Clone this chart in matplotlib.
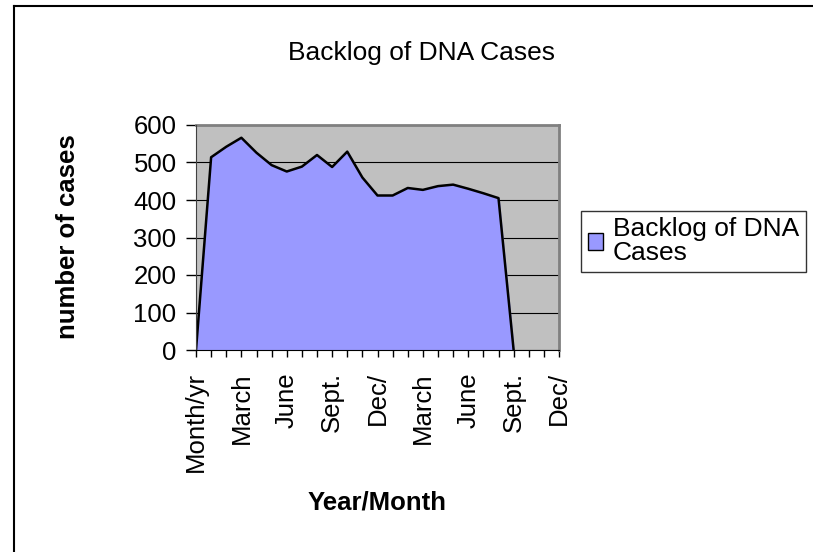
import matplotlib
matplotlib.use('Agg')
import matplotlib.pyplot as plt
from matplotlib.lines import Line2D

plt.rcParams['font.family'] = ['Liberation Sans', 'DejaVu Sans']

# backlog values per month (empty months at the end are left out)
backlog = [0, 514, 542, 566, 526, 493, 476, 489, 520, 488, 529, 460,
           412, 412, 432, 427, 437, 441, 430, 418, 405, 0]
n_categories = 25
tick_labels = ['Month/yr', 'March', 'June', 'Sept.', 'Dec/',
               'March', 'June', 'Sept.', 'Dec/']
yticks = [0, 100, 200, 300, 400, 500, 600]

fs = 18.5

fig = plt.figure(figsize=(8.13, 5.52), dpi=100)
ax = fig.add_axes([196/813, 1-350/552, (559-196)/813, (350-125)/552])
ax.set_facecolor('#C0C0C0')

x = list(range(len(backlog)))
ax.fill_between(x, backlog, 0, color='#9999FF', zorder=2, label='Backlog of DNA\nCases')
ax.plot(x, backlog, color='black', lw=1.8, zorder=3)

ax.set_xlim(0, n_categories - 1)
ax.set_ylim(0, 600)
ax.set_yticks(yticks)
ax.set_xticks(range(n_categories))
labels = []
for i in range(n_categories):
    if i % 3 == 0:
        labels.append(tick_labels[i // 3])
    else:
        labels.append('')
ax.set_xticklabels(labels, rotation=90, fontsize=fs)
ax.tick_params(axis='y', labelsize=fs, length=7, width=1, direction='out', pad=7)
ax.tick_params(axis='x', length=5, width=1, direction='out', pad=11)
ax.grid(axis='y', color='black', lw=0.8, zorder=1)
ax.set_axisbelow(True)

for side in ['top', 'right']:
    ax.spines[side].set_color('#808080')
    ax.spines[side].set_linewidth(2)
ax.spines['left'].set_color('#404040')
ax.spines['bottom'].set_color('black')
ax.spines['left'].set_zorder(4)
ax.spines['bottom'].set_zorder(4)

fig.text(421/813, 1-60/552, 'Backlog of DNA Cases', ha='center', va='baseline', fontsize=19)
fig.text(68/813, 1-237/552, 'number of cases', ha='center', va='center',
         rotation=90, fontsize=fs, fontweight='bold')
fig.text(377/813, 1-510/552, 'Year/Month', ha='center', va='baseline',
         fontsize=fs, fontweight='bold')

leg = ax.legend(loc='lower left', bbox_to_anchor=(581/813, 1-272/552),
                bbox_transform=fig.transFigure, fontsize=19, frameon=True,
                fancybox=False, edgecolor='black', handlelength=0.6,
                handleheight=0.6, handletextpad=0.35, borderpad=0.25,
                borderaxespad=0, labelspacing=0.1)
leg.get_frame().set_linewidth(1)
leg.get_texts()[0].set_linespacing(1.0)
leg.legend_handles[0].set_edgecolor('black')
leg.legend_handles[0].set_linewidth(1)

# outer chart frame (top and left edges visible)
fig.add_artist(Line2D([14/813, 1], [1-6/552, 1-6/552], color='black', lw=1.5,
                      transform=fig.transFigure))
fig.add_artist(Line2D([14/813, 14/813], [0, 1-6/552], color='black', lw=1.5,
                      transform=fig.transFigure))

fig.savefig('out.png', dpi=100)
